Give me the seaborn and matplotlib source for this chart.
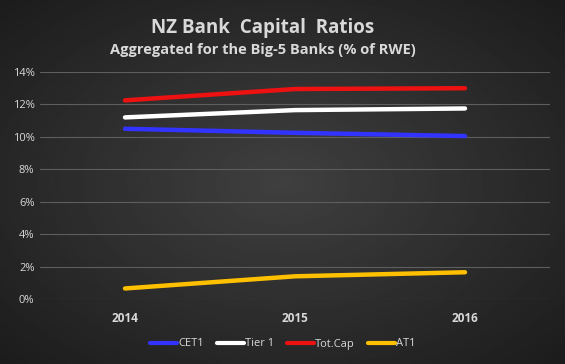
"""NZ bank capital ratios, Big-5 aggregate, styled like the Excel chart."""
import matplotlib
matplotlib.use("Agg")
import matplotlib.pyplot as plt
import numpy as np
import pandas as pd
import seaborn as sns

YEARS = ["2014", "2015", "2016"]
CET1 = [10.5, 10.25, 10.05]
TIER1 = [11.2, 11.65, 11.75]
TOTCAP = [12.25, 12.95, 13.0]
AT1 = [0.65, 1.4, 1.65]
SERIES = ["CET1", "Tier 1", "Tot.Cap", "AT1"]
COLORS = ["#3333ff", "#ffffff", "#ee1111", "#ffc000"]

df = pd.DataFrame({
    "year": YEARS * 4,
    "value": CET1 + TIER1 + TOTCAP + AT1,
    "series": [s for s in SERIES for _ in YEARS],
})

sns.set_theme(style="dark")
plt.rcParams["font.family"] = ["Open Sans", "DejaVu Sans"]
TEXT = "#d9d9d9"

fig = plt.figure(figsize=(5.65, 3.64), dpi=100)

# radial dark-grey background
bg = fig.add_axes([0, 0, 1, 1], zorder=-1)
yy, xx = np.mgrid[-1:1:200j, -1:1:300j]
r = np.sqrt((xx * 0.9) ** 2 + (yy * 0.9) ** 2)
bg.imshow(0.25 - 0.11 * np.clip(r, 0, 1.3), cmap="gray", vmin=0, vmax=1,
          aspect="auto", extent=[0, 1, 0, 1])
bg.axis("off")

ax = fig.add_axes([40 / 565, 65 / 364, 510 / 565, 227 / 364])
ax.patch.set_alpha(0)
sns.lineplot(data=df, x="year", y="value", hue="series", palette=COLORS,
             linewidth=3.2, ax=ax, sort=False)
ax.set_xlim(-0.5, 2.5)
ax.set_ylim(0, 14)
ax.set_yticks(range(0, 15, 2))
ax.set_yticklabels([f"{v}%" for v in range(0, 15, 2)])
ax.yaxis.grid(True, color="#5e5e5e", linewidth=0.8)
ax.xaxis.grid(False)
for s in ax.spines.values():
    s.set_visible(False)
ax.tick_params(axis="y", colors=TEXT, labelsize=8, pad=4, length=0)
ax.tick_params(axis="x", colors=TEXT, labelsize=8.5, pad=9, length=0)
for lbl in ax.get_xticklabels():
    lbl.set_fontweight("bold")
ax.set(xlabel="", ylabel="")

leg = ax.legend(loc="center", bbox_to_anchor=(0.476, -45 / 227), ncol=4,
                frameon=False, fontsize=8, handlelength=2.4,
                handletextpad=0.1, columnspacing=1.2)
for t in leg.get_texts():
    t.set_color(TEXT)
for h in leg.get_lines():
    h.set_linewidth(3)

fig.text(0.465, 0.922, "NZ Bank  Capital  Ratios", ha="center", va="center",
         color=TEXT, fontsize=13.5, fontweight="bold")
fig.text(0.465, 0.862, "Aggregated for the Big-5 Banks (% of RWE)",
         ha="center", va="center", color=TEXT, fontsize=10.5,
         fontweight="bold")

fig.savefig("out.png", dpi=100)
